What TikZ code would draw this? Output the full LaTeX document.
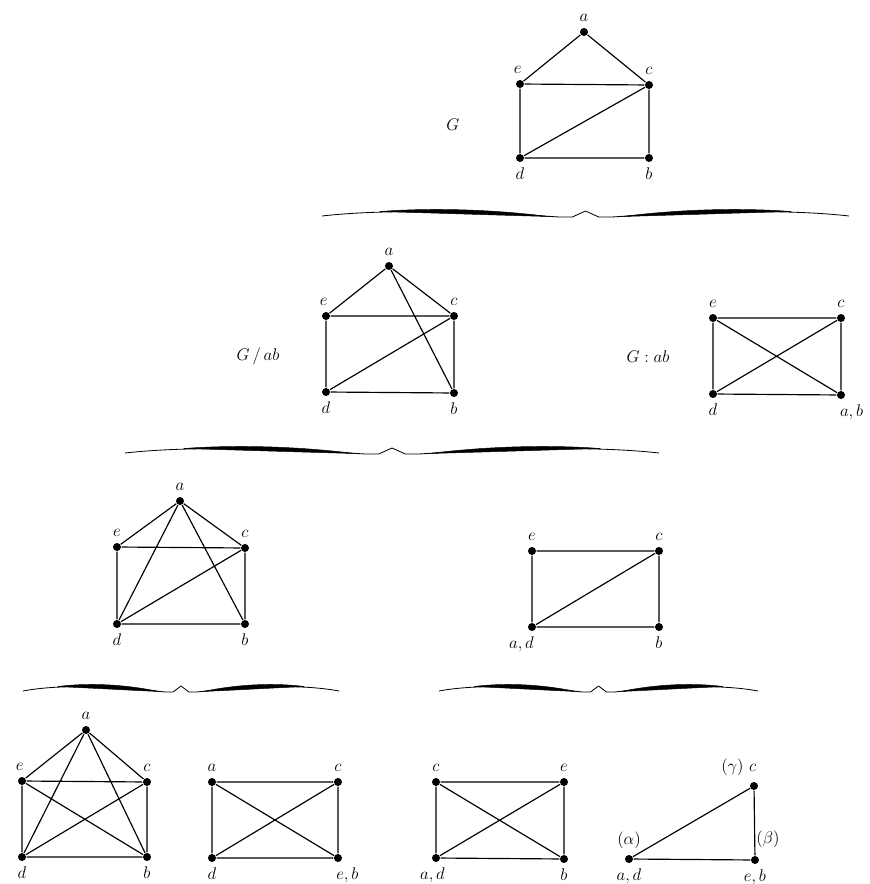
\documentclass[tikz,border=0pt]{standalone}
\usepackage{amsmath}
\usepackage{tikz}
\usetikzlibrary{positioning,calc}
\tikzset{
  gr/.style={line width=1pt, every label/.style={font=\Large}, label distance=1pt},
  vx/.style={circle, fill=black, inner sep=0pt, minimum size=2.4mm},
  ed/.style={draw=black, line width=1pt},
  gname/.style={font=\Large},
  braceink/.style={fill=black, draw=black, line width=.4pt},
}
% half of a wide brace: #1 end x, #2 tip x, #3 level
\newcommand{\halfbrace}[3]{%
  \pgfmathsetmacro\hw{#2-#1}
  \draw[braceink, fill=none, line width=.7pt, line join=round]
    (#1,#3+5) .. controls ({#1+.2*\hw},#3-1) and ({#1+.5*\hw},#3-1) .. ({#1+.9*\hw},#3+6)
    -- ({#2-.05*\hw},#3+6) -- (#2,#3);
  \fill[braceink] ({#1+.22*\hw},#3+.5) .. controls ({#1+.42*\hw},#3-3.5) and ({#1+.65*\hw},#3-1.5) .. ({#1+.86*\hw},#3+5.5)
    .. controls ({#1+.65*\hw},#3+4) and ({#1+.42*\hw},#3+2) .. cycle;
}
\newcommand{\wbrace}[3]{%
  \pgfmathsetmacro\bmid{(#1+#2)/2}
  \halfbrace{#1}{\bmid}{#3}\halfbrace{#2}{\bmid}{#3}}

\begin{document}
\begin{tikzpicture}[gr, x=.3mm, y=-.3mm]
\useasboundingbox (0,0) rectangle (869,884);
% G
\node[gname] (tG) at (453,125) {$G$};
\node[vx, label=above:$a$] (ta) at (584,32) {};
\node[vx, label={[xshift=-2pt]above:$e$}] (te) at (520,84) {};
\node[vx, label=above:$c$] (tc) at (649,85) {};
\node[vx, label=below:$d$] (td) at (520,158) {};
\node[vx, label=below:$b$] (tb) at (649,158) {};
\draw[ed] (ta) -- (te) (ta) -- (tc) (te) -- (tc) (te) -- (td)
  (tc) -- (td) (tc) -- (tb) (td) -- (tb);
\wbrace{322}{849}{211}

% G / ab
\node[gname] (pG) at (258,356) {$G\,/\,ab$};
\node[vx, label=above:$a$] (pa) at (389,266) {};
\node[vx, label={[xshift=-2pt]above:$e$}] (pe) at (326,316) {};
\node[vx, label=above:$c$] (pc) at (454,316) {};
\node[vx, label=below:$d$] (pd) at (326,392) {};
\node[vx, label=below:$b$] (pb) at (454,393) {};
\draw[ed] (pa) -- (pe) (pa) -- (pc) (pa) -- (pb) (pe) -- (pc)
  (pe) -- (pd) (pc) -- (pd) (pc) -- (pb) (pd) -- (pb);

% G : ab
\node[gname] (mG) at (648,357) {$G : ab$};
\node[vx, label=above:$e$] (me) at (713,318) {};
\node[vx, label=above:$c$] (mc) at (841,318) {};
\node[vx, label=below:$d$] (md) at (713,394) {};
\node[vx, label={[xshift=9pt]below:$a, b$}] (mab) at (841,395) {};
\draw[ed] (me) -- (mc) (me) -- (md) (me) -- (mab)
  (mc) -- (md) (mc) -- (mab) (md) -- (mab);
\wbrace{125}{659}{448}

% rząd 3, lewy
\node[vx, label=above:$a$] (ua) at (180,501) {};
\node[vx, label=above:$e$] (ue) at (117,547) {};
\node[vx, label=above:$c$] (uc) at (245,548) {};
\node[vx, label=below:$d$] (ud) at (117,624) {};
\node[vx, label=below:$b$] (ub) at (245,624) {};
\draw[ed] (ua) -- (ue) (ua) -- (uc) (ua) -- (ud) (ua) -- (ub)
  (ue) -- (uc) (ue) -- (ud) (uc) -- (ud) (uc) -- (ub) (ud) -- (ub);

% rząd 3, prawy
\node[vx, label=above:$e$] (ve) at (532,551) {};
\node[vx, label=above:$c$] (vc) at (659,551) {};
\node[vx, label={[xshift=-9pt]below:$a, d$}] (vad) at (532,627) {};
\node[vx, label=below:$b$] (vb) at (659,627) {};
\draw[ed] (ve) -- (vc) (ve) -- (vad) (vc) -- (vad) (vc) -- (vb) (vad) -- (vb);
\wbrace{23}{339}{686}
\wbrace{439}{758}{686}

% rząd 4
\node[vx, label=above:$a$] (wa) at (86,730) {};
\node[vx, label={[xshift=-2pt]above:$e$}] (we) at (22,781) {};
\node[vx, label=above:$c$] (wc) at (147,782) {};
\node[vx, label=below:$d$] (wd) at (22,857) {};
\node[vx, label=below:$b$] (wb) at (147,857) {};
\draw[ed] (wa) -- (we) (wa) -- (wc) (wa) -- (wd) (wa) -- (wb) (we) -- (wc)
  (we) -- (wd) (we) -- (wb) (wc) -- (wd) (wc) -- (wb) (wd) -- (wb);

\node[vx, label=above:$a$] (xa) at (212,782) {};
\node[vx, label=above:$c$] (xc) at (338,782) {};
\node[vx, label=below:$d$] (xd) at (212,858) {};
\node[vx, label={[xshift=8pt]below:$e, b$}] (xeb) at (338,858) {};
\draw[ed] (xa) -- (xc) (xa) -- (xd) (xa) -- (xeb)
  (xc) -- (xd) (xc) -- (xeb) (xd) -- (xeb);

\node[vx, label=above:$c$] (yc) at (436,782) {};
\node[vx, label=above:$e$] (ye) at (564,782) {};
\node[vx, label={[xshift=-3pt]below:$a, d$}] (yad) at (436,858) {};
\node[vx, label=below:$b$] (yb) at (564,859) {};
\draw[ed] (yc) -- (ye) (yc) -- (yad) (yc) -- (yb)
  (ye) -- (yad) (ye) -- (yb) (yad) -- (yb);

\node[vx, label={[xshift=-13pt]above:$(\gamma)\ c$}] (zc) at (754,786) {};
\node[vx, label={above:$(\alpha)$}, label={below:$a, d$}] (zad) at (629,859) {};
\node[vx, label={below:$e, b$}] (zeb) at (755,860) {};
\draw[ed] (zad) -- (zc);
\draw[ed] (zc) -- node[right, pos=.75, font=\Large, inner sep=1pt] {$(\beta)$} (zeb);
\draw[ed] (zad) -- (zeb);
\end{tikzpicture}
\end{document}
